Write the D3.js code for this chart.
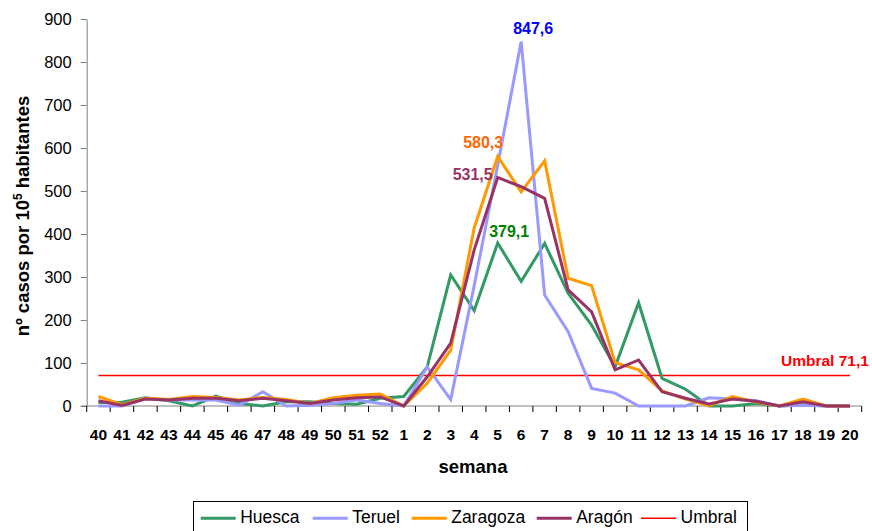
<!DOCTYPE html>
<html>
<head>
<meta charset="utf-8">
<script src="https://cdn.jsdelivr.net/npm/d3@7"></script>
<style>
body{margin:0;background:#fff;}
svg{font-family:"Liberation Sans",Arial,sans-serif;}
</style>
</head>
<body>
<svg id="chart" width="872" height="531"></svg>
<script>
const weeks = ["40","41","42","43","44","45","46","47","48","49","50","51","52","1","2","3","4","5","6","7","8","9","10","11","12","13","14","15","16","17","18","19","20"];
const huesca   = [8,9,19,12,0,23,6,0,10,10,6,4,18,22,91,305,222,379.1,290,378,262,188,91,240,64,39,0,0,6,0,3,0,0];
const teruel   = [0,0,18,14,14,14,2,33,0,2,6,14,6,0,91,15,280,560,847.6,258,173,41,30,0,0,0,19,16,12,0,2,0,0];
const zaragoza = [22,3,18,15,22,20,14,20,15,6,19,25,28,0,53,130,414,580.3,498,570,297,280,101,84,35,16,1,22,9,0,16,0,0];
const aragon   = [12,1,16,14,18,18,12,18,12,6,14,19,21,0,68,146,363,531.5,510,483,270,219,84,107,33,18,5,16,11,0,10,0,0];
const umbral = 71.1;
const yTicks = [0,100,200,300,400,500,600,700,800,900];
const seriesNames = ["Huesca","Teruel","Zaragoza","Aragón","Umbral"];
const seriesColors = ["#339966","#9999ff","#ff9900","#993366","#ff0000"];
const peakLabels = [
  {text:"847,6", series:1, idx:18, color:"#0000ff", dx:12, dy:-7.5},
  {text:"580,3", series:2, idx:17, color:"#ff6600", dx:-14.5, dy:-8},
  {text:"531,5", series:3, idx:17, color:"#993366", dx:-25, dy:2.5},
  {text:"379,1", series:0, idx:17, color:"#008000", dx:11.5, dy:-6.3}
];

const svg = d3.select("#chart");
const L = 86.7, R = 861.7, T = 19, B = 406;
const x = d3.scaleBand().domain(weeks).range([L, R]).padding(0);
const y = d3.scaleLinear().domain([0, 900]).range([B, T]);
const cx = w => x(w) + x.bandwidth()/2;

// y axis
const yAxis = d3.axisLeft(y).tickValues(yTicks).tickSize(6).tickSizeOuter(0);
const gy = svg.append("g").attr("transform", `translate(${L},0)`).call(yAxis);
gy.select(".domain").attr("stroke","#808080");
gy.selectAll(".tick line").attr("stroke","#808080");
gy.selectAll(".tick text").attr("font-size","16.5px").attr("fill","#000").attr("x",-15)
  .attr("font-family","Liberation Sans, Arial, sans-serif");

// x axis
const gx = svg.append("g").attr("transform", `translate(0,${B})`);
gx.append("line").attr("x1",L-6).attr("x2",R).attr("y1",0).attr("y2",0).attr("stroke","#808080");
const bounds = weeks.map(w => x(w) + x.bandwidth()).concat([L]);
gx.selectAll("line.tk").data(bounds).enter().append("line").attr("class","tk")
  .attr("x1",d=>d).attr("x2",d=>d).attr("y1",0).attr("y2",6).attr("stroke","#000");
gx.selectAll("text").data(weeks).enter().append("text")
  .attr("x", d => cx(d)).attr("y", 33.5).attr("text-anchor","middle")
  .attr("font-size","15.5px").attr("font-weight","bold").text(d=>d);

// titles
svg.append("text").attr("x", 473).attr("y", 473).attr("text-anchor","middle")
  .attr("font-size","18.5px").attr("font-weight","bold").text("semana");
const yt = svg.append("text").attr("transform","translate(29,216) rotate(-90)")
  .attr("text-anchor","middle").attr("font-size","18.5px").attr("font-weight","bold");
yt.append("tspan").text("nº casos por 10");
yt.append("tspan").attr("font-size","12px").attr("dy","-7").text("5");
yt.append("tspan").attr("dy","7").text(" habitantes");

// umbral line
svg.append("line").attr("x1", cx(weeks[0])).attr("x2", cx(weeks[weeks.length-1]))
  .attr("y1", y(umbral)).attr("y2", y(umbral)).attr("stroke", seriesColors[4]).attr("stroke-width",1.5);
svg.append("text").attr("x", 781).attr("y", y(umbral)-9.5).attr("text-anchor","start")
  .attr("font-size","15.5px").attr("font-weight","bold").attr("fill","#ff0000").text("Umbral 71,1");

// series
const data = [huesca, teruel, zaragoza, aragon];
const line = d3.line().x((d,i)=>cx(weeks[i])).y(d=>y(d));
data.forEach((s,k)=>{
  svg.append("path").datum(s).attr("d", line).attr("fill","none")
    .attr("stroke", seriesColors[k]).attr("stroke-width",3).attr("stroke-linejoin","miter");
});

// peak labels
peakLabels.forEach(p=>{
  svg.append("text").attr("x", cx(weeks[p.idx]) + p.dx).attr("y", y(data[p.series][p.idx]) + p.dy)
    .attr("text-anchor","middle").attr("font-size","16px").attr("font-weight","bold")
    .attr("fill", p.color).text(p.text);
});

// legend
const lg = svg.append("g");
lg.append("rect").attr("x",193.5).attr("y",501.5).attr("width",554).attr("height",31)
  .attr("fill","#fff").attr("stroke","#000");
const legX = [200.7, 312.7, 411.7, 536.7, 641];
seriesNames.forEach((n,i)=>{
  lg.append("line").attr("x1",legX[i]).attr("x2",legX[i]+35).attr("y1",518.3).attr("y2",518.3)
    .attr("stroke",seriesColors[i]).attr("stroke-width", i===4?1.5:3);
  lg.append("text").attr("x",legX[i]+39.5).attr("y",523).attr("font-size","17.5px").text(n);
});
</script>
</body>
</html>
